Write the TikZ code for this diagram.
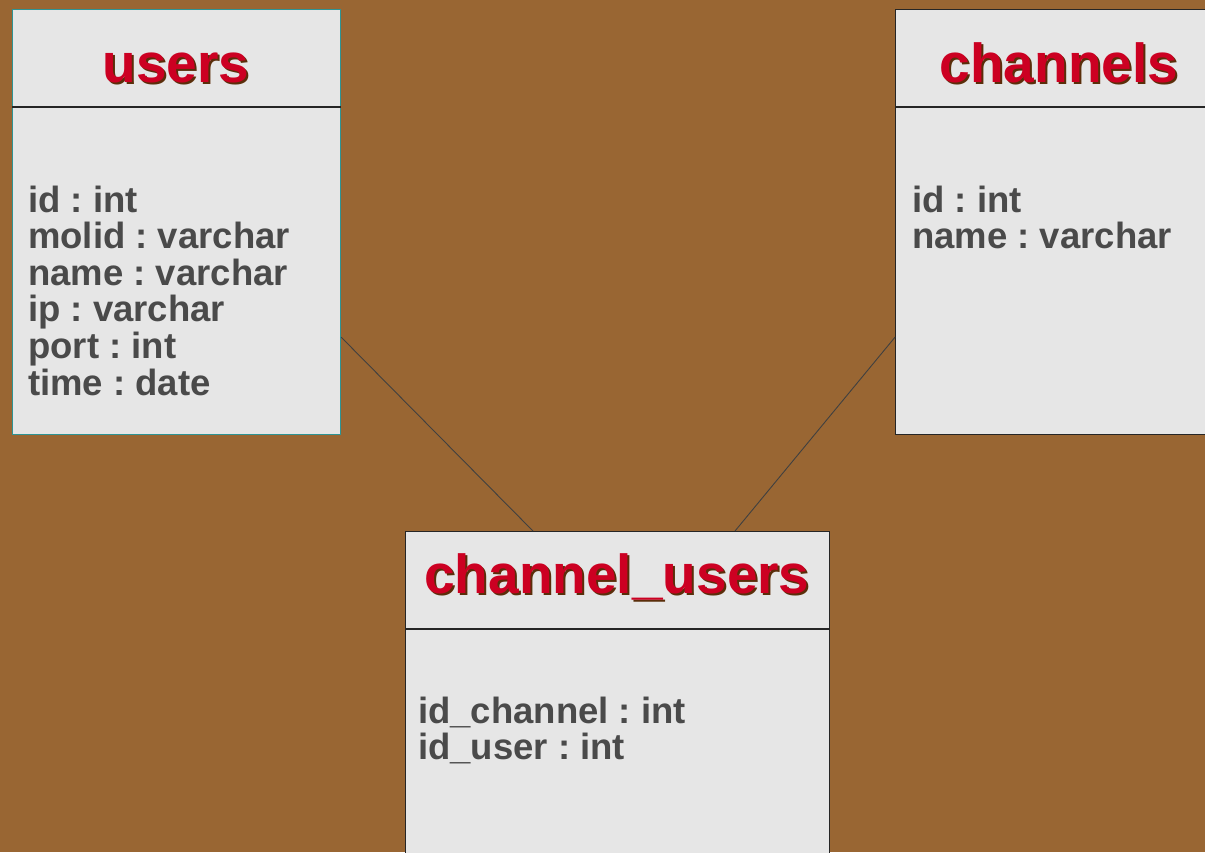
\documentclass[tikz,border=0pt]{standalone}
\usepackage{fontspec}
\setmainfont{Liberation Sans}
\frenchspacing
\definecolor{bgbrown}{HTML}{996633}
\definecolor{boxfill}{HTML}{E6E6E6}
\definecolor{tealb}{HTML}{2E9494}
\definecolor{titlered}{HTML}{CC0022}
\definecolor{shadowc}{HTML}{5A2E0A}
\definecolor{attrc}{HTML}{4A4A4A}
\begin{document}
\begin{tikzpicture}[x=1pt,y=-1pt,
  tbox/.style={draw=black!85,line width=1.2pt,fill=boxfill,rectangle,inner sep=0pt,anchor=north west},
  ttl/.style={font=\bfseries\fontsize{55}{55}\selectfont,text=titlered,anchor=base,inner sep=0pt},
  ttlshadow/.style={font=\bfseries\fontsize{55}{55}\selectfont,text=shadowc,anchor=base,inner sep=0pt},
  attr/.style={font=\bfseries\fontsize{36.5}{36.5}\selectfont,text=attrc,anchor=base west,inner sep=0pt},
  divider/.style={draw=black!85,line width=1.2pt},
  link/.style={draw=black!75,line width=0.9pt}]
\useasboundingbox[fill=bgbrown] (0,0) rectangle (1205,852);
% boxes
\node[tbox,draw=tealb,minimum width=328pt,minimum height=425pt] (users) at (12,9) {};
\node[tbox,minimum width=328pt,minimum height=425pt] (channels) at (895,9) {};
\node[tbox,minimum width=424pt,minimum height=400pt] (cu) at (405,531) {};
% dividers
\draw[divider] ([yshift=-98pt]users.north west) -- ([yshift=-98pt]users.north east);
\draw[divider] ([yshift=-98pt]channels.north west) -- ([yshift=-98pt]channels.north east);
\draw[divider] ([yshift=-98pt]cu.north west) -- ([yshift=-98pt]cu.north east);
% titles
\node[ttlshadow] (usersS) at (178,84) {users};
\node[ttl] (usersT) at (176,82) {users};
\node[ttlshadow] (channelsS) at (1061,84) {channels};
\node[ttl] (channelsT) at (1059,82) {channels};
\node[ttlshadow] (cuS) at (619,595) {channel\_users};
\node[ttl] (cuT) at (617,593) {channel\_users};
% attributes: users
\node[attr] (u1) at (28,212) {id : int};
\node[attr] (u2) at (28,248.6) {molid : varchar};
\node[attr] (u3) at (28,285.2) {name : varchar};
\node[attr] (u4) at (28,321.8) {ip : varchar};
\node[attr] (u5) at (28,358.4) {port : int};
\node[attr] (u6) at (28,395) {time : date};
% attributes: channels
\node[attr] (c1) at (912,212) {id : int};
\node[attr] (c2) at (912,248.6) {name : varchar};
% attributes: channel_users
\node[attr] (cu1) at (418,723) {id\_channel : int};
\node[attr] (cu2) at (418,759.6) {id\_user : int};
% connectors
\draw[link] ([yshift=98pt]users.south east) -- ([xshift=128pt]cu.north west);
\draw[link] ([yshift=98pt]channels.south west) -- ([xshift=330pt]cu.north west);
\end{tikzpicture}
\end{document}
